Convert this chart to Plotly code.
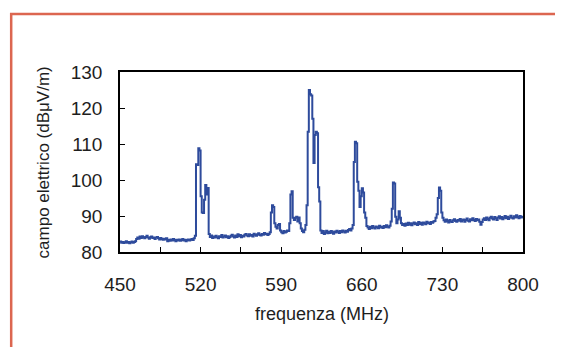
import numpy as np
import plotly.graph_objects as go

# Frequency grid (MHz), one sample per MHz
freq_start = 450
freq_stop = 800

# Electric field (dBuV/m), 450..800 MHz
field_dbuv = [
    # 450-464
    82.9, 82.6, 82.8, 82.5, 82.7, 83.0, 82.6, 82.8, 82.4, 82.7, 82.9, 82.6, 82.8, 83.0, 83.6,
    # 465-490
    84.0, 83.7, 84.3, 83.9, 84.4, 84.1, 83.8, 84.2, 84.5, 84.0, 83.7, 84.1, 84.3, 83.9, 84.0,
    83.6, 84.0, 84.2, 83.8, 83.5, 83.9, 83.6, 83.4, 83.7, 83.5, 83.8,
    # 491-515
    83.0, 83.4, 83.1, 83.5, 83.2, 83.6, 83.3, 83.0, 83.4, 83.2, 83.5, 83.1, 83.3, 83.6, 83.2,
    83.4, 83.0, 83.3, 83.5, 83.2, 83.4, 83.6, 83.3, 83.8, 84.5,
    # 516-527
    104.4, 104.2, 108.8, 108.2, 95.5, 91.0, 90.8, 94.5, 98.6, 96.0, 97.8, 85.0,
    # 528-580
    84.2, 84.6, 83.9, 84.3, 84.0, 84.5, 84.1, 83.8, 84.4, 84.2, 84.7, 84.0, 84.3, 84.6, 84.1,
    84.4, 83.9, 84.2, 84.5, 84.8, 84.3, 84.0, 84.6, 84.2, 84.9, 84.4, 84.7, 84.1, 84.5, 84.3,
    84.8, 85.0, 84.6, 84.4, 84.9, 84.5, 84.7, 84.3, 85.1, 84.8, 84.5, 84.9, 85.2, 84.7, 84.6,
    85.0, 84.8, 85.3, 84.9, 85.1, 84.7, 85.0, 85.5,
    # 581-625
    91.0, 93.0, 92.5, 88.0, 87.0, 86.5, 87.5, 87.8, 86.0, 85.5,
    85.2, 85.8, 85.4, 85.6, 86.0, 85.8, 88.0, 96.0, 96.9, 89.5,
    88.9, 89.5, 89.8, 88.5, 89.6, 88.0, 86.5, 85.8, 85.5, 86.2,
    87.5, 93.0, 113.4, 125.0, 123.8, 123.5, 117.0, 104.7, 112.5, 113.4,
    113.0, 98.0, 94.0, 86.0, 85.3,
    # 626-650
    85.8, 85.0, 85.4, 85.9, 85.2, 85.6, 85.3, 85.8, 85.5, 85.1, 85.7, 85.4, 85.9, 85.6, 85.3,
    85.8, 85.5, 86.0, 85.7, 85.4, 85.9, 85.6, 86.1, 86.4, 86.0,
    # 651-665
    86.5, 87.5, 105.0, 110.6, 110.2, 99.5, 97.0, 92.5, 95.5, 97.7, 96.5, 91.0, 89.5, 87.2, 86.8,
    # 666-685
    86.4, 87.0, 86.6, 87.2, 86.8, 86.5, 87.1, 86.9, 86.6, 87.3, 86.8, 87.0, 86.7, 87.2, 86.9,
    87.4, 87.0, 86.8, 87.3, 88.5,
    # 686-695
    92.0, 99.3, 99.0, 89.8, 88.0, 89.0, 91.3, 89.5, 88.0, 87.5,
    # 696-724
    87.8, 87.3, 87.9, 87.5, 88.1, 87.6, 88.0, 87.4, 87.9, 88.2, 87.7, 88.0, 87.5, 88.3, 87.8,
    88.1, 87.6, 88.2, 88.0, 87.7, 88.4, 88.0, 88.2, 87.8, 88.3, 88.1, 88.5, 88.6, 89.5,
    # 725-731
    90.5, 95.0, 97.9, 97.0, 91.0, 89.5, 88.8,
    # 732-800
    88.4, 89.0, 88.6, 88.2, 88.9, 88.5, 88.3, 88.8, 89.1, 88.6, 88.4, 88.9, 88.7, 89.2, 88.5,
    88.8, 89.0, 88.4, 88.9, 89.3, 88.7, 88.5, 89.1, 88.8, 89.4, 88.9, 88.6, 89.2, 88.8, 89.0,
    88.4, 87.6, 88.3, 89.0, 89.4, 88.9, 89.6, 89.2, 88.8, 89.5, 89.8, 89.3, 89.0, 89.7, 89.4,
    88.9, 89.6, 89.9, 89.3, 89.7, 89.1, 89.5, 90.0, 89.4, 89.8, 89.2, 89.6, 90.1, 89.5, 89.3,
    89.9, 89.6, 90.2, 89.7, 89.4, 90.0, 89.6, 89.8, 89.5,
]

freq_mhz = np.arange(freq_start, freq_start + len(field_dbuv))

x_tick_vals = [450, 520, 590, 660, 730, 800]
y_tick_vals = [80, 90, 100, 110, 120, 130]

x_title = "frequenza (MHz)"
y_title = "campo elettrico (dBμV/m)"

FONT = "Liberation Sans, Arial, sans-serif"
TXT = "#1e1e1e"

fig = go.Figure()
fig.add_trace(go.Scatter(
    x=freq_mhz, y=field_dbuv, mode="lines",
    line=dict(color="#2e4b9c", width=2, shape="hv"),
    hoverinfo="x+y", showlegend=False,
))

# The page body adds an ~8px offset, so the figure is sized 8px smaller.
fig.update_layout(
    width=555, height=339,
    margin=dict(l=112, r=40, t=64, b=95),
    paper_bgcolor="white", plot_bgcolor="white",
    font=dict(family=FONT, color=TXT),
    xaxis=dict(
        range=[450, 800], tickvals=x_tick_vals, ticks="inside", ticklen=5,
        tickwidth=1.3, tickcolor="black",
        minor=dict(dtick=35, tick0=450, ticks="inside", ticklen=5, tickwidth=1.3, tickcolor="black"),
        showline=True, linecolor="black", linewidth=1.5, mirror=True,
        showgrid=False, zeroline=False, tickfont=dict(size=19, family=FONT, color=TXT),
        ticklabelstandoff=14,
    ),
    yaxis=dict(
        range=[80, 130], tickvals=y_tick_vals, ticks="inside", ticklen=5,
        tickwidth=1.3, tickcolor="black",
        showline=True, linecolor="black", linewidth=1.5, mirror=True,
        showgrid=False, zeroline=False, tickfont=dict(size=19, family=FONT, color=TXT),
        ticklabelstandoff=12,
    ),
    annotations=[
        dict(text=x_title, xref="paper", yref="paper", x=0.5, y=-0.345,
             showarrow=False, xanchor="center", yanchor="middle",
             font=dict(size=18, family=FONT, color=TXT)),
        dict(text=y_title, xref="paper", yref="paper", x=-0.19, y=0.5,
             showarrow=False, xanchor="center", yanchor="middle", textangle=-90,
             font=dict(size=17, family=FONT, color=TXT)),
    ],
    shapes=[
        dict(type="path", xref="paper", yref="paper",
             path="M -0.27,-1 L -0.27,1.322 L 1.2,1.322",
             line=dict(color="#dc6650", width=2.5)),
    ],
)

fig.write_html("out.html")
